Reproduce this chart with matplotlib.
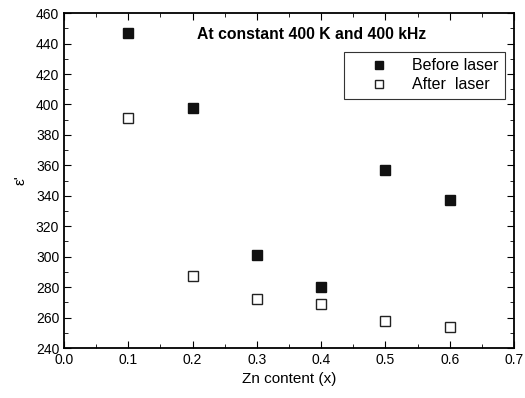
import matplotlib
matplotlib.use('Agg')
from matplotlib import pyplot as plt
from matplotlib.ticker import MultipleLocator

plt.rcParams['font.family'] = ['Liberation Sans', 'DejaVu Sans']

zn = [0.1, 0.2, 0.3, 0.4, 0.5, 0.6]
before_laser = [447, 397.5, 301, 280, 357, 337]
after_laser = [391, 287, 272, 269, 258, 254]

fig = plt.figure(figsize=(5.25, 3.98), dpi=100)
ax = fig.add_axes([0.122, 0.1256, 0.857, 0.8414])

ax.plot(zn, before_laser, 's', color='#111111', markersize=7.5, label='Before laser')
ax.plot(zn, after_laser, 's', markerfacecolor='white', markeredgecolor='#222222',
        markeredgewidth=1.0, markersize=7.5, label='After  laser')

ax.set_xlim(0.0, 0.7)
ax.set_ylim(240, 460)
ax.xaxis.set_major_locator(MultipleLocator(0.1))
ax.xaxis.set_minor_locator(MultipleLocator(0.05))
ax.yaxis.set_major_locator(MultipleLocator(20))
ax.yaxis.set_minor_locator(MultipleLocator(10))
ax.tick_params(which='both', direction='in', top=True, right=True, labelsize=10)
ax.tick_params(which='major', length=5)
ax.tick_params(which='minor', length=3)
for s in ax.spines.values():
    s.set_linewidth(1.3)

ax.set_xlabel('Zn content (x)', fontsize=11)
ax.set_ylabel("ε'", fontsize=11, labelpad=6)

ax.text(0.55, 0.937, 'At constant 400 K and 400 kHz', transform=ax.transAxes,
        fontsize=11.3, fontweight='bold', ha='center', va='center')

leg = ax.legend(loc='upper right', bbox_to_anchor=(0.98, 0.884), borderaxespad=0,
                fontsize=11.5, fancybox=False, edgecolor='#333333', framealpha=1,
                markerscale=0.85, handlelength=3.6, handletextpad=0.3,
                borderpad=0.4, labelspacing=0.25)
leg.get_frame().set_linewidth(0.8)

fig.savefig('out.png', dpi=100)
